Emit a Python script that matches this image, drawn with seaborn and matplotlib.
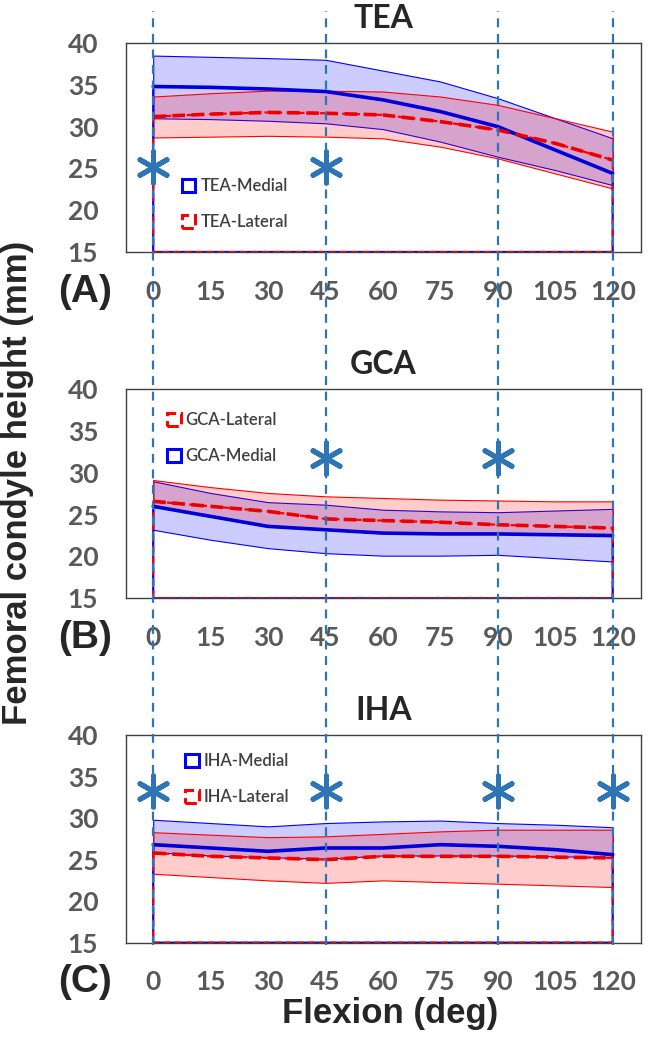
import matplotlib
matplotlib.use('Agg')
import numpy as np
import pandas as pd
import matplotlib.pyplot as plt
import matplotlib.transforms as mtransforms
from matplotlib.lines import Line2D
from matplotlib.patches import Patch
import seaborn as sns

# flexion angles (deg)
flexion = [0, 15, 30, 45, 60, 75, 90, 105, 120]

# TEA: mean and +/- SD bands (mm)
tea_med_hi = [38.5, 38.35, 38.2, 38.0, 36.7, 35.4, 33.4, 31.0, 28.6]
tea_med_mean = [34.8, 34.7, 34.5, 34.2, 33.2, 31.8, 30.0, 27.2, 24.4]
tea_med_lo = [31.0, 30.9, 30.7, 30.4, 29.7, 28.2, 26.4, 24.8, 23.0]
tea_lat_hi = [33.6, 34.0, 34.3, 34.3, 34.2, 33.6, 32.6, 31.0, 29.4]
tea_lat_mean = [31.2, 31.5, 31.7, 31.6, 31.4, 30.6, 29.6, 28.0, 26.0]
tea_lat_lo = [28.7, 28.8, 28.9, 28.8, 28.6, 27.6, 26.2, 24.4, 22.6]

# GCA
gca_med_hi = [29.0, 27.6, 26.5, 26.2, 25.6, 25.4, 25.3, 25.5, 25.7]
gca_med_mean = [26.0, 24.8, 23.6, 23.2, 22.8, 22.7, 22.7, 22.6, 22.5]
gca_med_lo = [23.2, 22.0, 21.0, 20.4, 20.1, 20.1, 20.2, 19.8, 19.4]
gca_lat_hi = [29.15, 28.3, 27.6, 27.2, 27.0, 26.8, 26.7, 26.6, 26.6]
gca_lat_mean = [26.6, 26.0, 25.4, 24.5, 24.3, 24.1, 23.8, 23.6, 23.4]
gca_lat_lo = [26.1, 24.9, 23.7, 23.3, 22.9, 22.8, 22.8, 22.7, 22.7]

# IHA
iha_med_hi = [29.8, 29.4, 29.0, 29.4, 29.6, 29.7, 29.4, 29.2, 28.9]
iha_med_mean = [26.8, 26.4, 26.0, 26.4, 26.4, 26.8, 26.6, 26.2, 25.6]
iha_med_lo = [25.9, 25.5, 25.3, 25.1, 25.5, 25.5, 25.5, 25.4, 25.3]
iha_lat_hi = [28.3, 28.0, 27.7, 27.8, 28.1, 28.4, 28.6, 28.6, 28.6]
iha_lat_mean = [25.8, 25.4, 25.2, 25.0, 25.4, 25.4, 25.4, 25.3, 25.2]
iha_lat_lo = [23.3, 22.9, 22.5, 22.2, 22.5, 22.3, 22.1, 21.9, 21.7]

# significant angles (asterisks) and their height in each panel
tea_star_x = [0, 45]
tea_star_y = [25.2, 25.2]
gca_star_x = [45, 90]
gca_star_y = [31.8, 31.8]
iha_star_x = [0, 45, 90, 120]
iha_star_y = [33.3, 33.3, 33.3, 33.3]

# vertical reference lines through all panels
ref_angles = [0, 45, 90, 120]

xticks = list(range(0, 121, 15))
yticks = list(range(15, 41, 5))

sns.set_theme(style='white')
plt.rcParams['font.family'] = ['Lato', 'DejaVu Sans']
ARIAL = ['Liberation Sans', 'DejaVu Sans']

BLUE = '#0000ff'
RED = '#ff0000'
STAR = '#2e75b6'
GREY = '#595959'

panels = [
    dict(name='TEA', letter='(A)', box=[0.1927, 0.760, 0.7875, 0.199],
         med=(tea_med_lo, tea_med_mean, tea_med_hi), lat=(tea_lat_lo, tea_lat_mean, tea_lat_hi),
         sx=tea_star_x, sy=tea_star_y, med_first=True, leg=(0.109, 0.23)),
    dict(name='GCA', letter='(B)', box=[0.1927, 0.4302, 0.7875, 0.199],
         med=(gca_med_lo, gca_med_mean, gca_med_hi), lat=(gca_lat_lo, gca_lat_mean, gca_lat_hi),
         sx=gca_star_x, sy=gca_star_y, med_first=False, leg=(0.08, 0.767)),
    dict(name='IHA', letter='(C)', box=[0.1927, 0.1022, 0.7875, 0.1978],
         med=(iha_med_lo, iha_med_mean, iha_med_hi), lat=(iha_lat_lo, iha_lat_mean, iha_lat_hi),
         sx=iha_star_x, sy=iha_star_y, med_first=True, leg=(0.115, 0.786)),
]

fig = plt.figure(figsize=(6.54, 10.5), dpi=100)
axes = []
for p in panels:
    ax = fig.add_axes(p['box'])
    axes.append(ax)
    m_lo, m_mean, m_hi = p['med']
    l_lo, l_mean, l_hi = p['lat']

    # SD bands
    ax.fill_between(flexion, m_lo, m_hi, facecolor=(0, 0, 1, 0.2), edgecolor=BLUE, lw=0.8, zorder=1)
    ax.fill_between(flexion, l_lo, l_hi, facecolor=(1, 0, 0, 0.2), edgecolor=RED, lw=0.8, zorder=1)
    # area outlines of the mean series (excel style)
    ax.fill_between(flexion, 15, m_mean, facecolor='none', edgecolor=BLUE, lw=1.6, zorder=2.7)
    ax.fill_between(flexion, 15, l_mean, facecolor='none', edgecolor=RED, lw=1.6,
                    linestyle=(0, (3, 2)), zorder=2.8)
    # mean lines
    sns.lineplot(x=flexion, y=m_mean, color='#0000dd', lw=2.6, ax=ax, zorder=3)
    sns.lineplot(x=flexion, y=l_mean, color='#ee0000', lw=2.6, linestyle=(0, (3.5, 1.8)), ax=ax, zorder=3)

    # asterisks
    sns.scatterplot(x=p['sx'], y=p['sy'], marker=(6, 2, 0), s=500, color=STAR,
                    linewidth=3.6, ax=ax, zorder=5)

    ax.set_xlim(-7.1, 127.4)
    ax.set_ylim(15, 40)
    ax.set_xticks(xticks)
    ax.set_yticks(yticks)
    ax.tick_params(length=0, pad=20, labelsize=19, labelcolor=GREY)
    for lab in ax.get_xticklabels() + ax.get_yticklabels():
        lab.set_fontweight('bold')
    for sp in ax.spines.values():
        sp.set_visible(True)
        sp.set_color('#404040')
        sp.set_linewidth(1)
    ax.set_xlabel('')
    ax.set_ylabel('')
    ax.set_title(p['name'], fontsize=23, fontweight='bold', pad=11)
    ax.text(-0.08, -0.19, p['letter'], transform=ax.transAxes, fontsize=28,
            fontweight='bold', ha='center', va='center', family=ARIAL)

    h_med = Patch(facecolor='none', edgecolor=BLUE, lw=2.2, label=p['name'] + '-Medial')
    h_lat = Patch(facecolor='none', edgecolor=RED, lw=2.2, linestyle='--', label=p['name'] + '-Lateral')
    handles = [h_med, h_lat] if p['med_first'] else [h_lat, h_med]
    leg = ax.legend(handles=handles, loc='center left', bbox_to_anchor=p['leg'], frameon=False,
                    fontsize=12, handlelength=0.8, handleheight=0.8, handletextpad=0.3,
                    labelspacing=1.2, borderpad=0, borderaxespad=0, labelcolor='#404040')
    for t in leg.get_texts():
        t.set_fontweight('semibold')

# dashed reference lines across the whole figure
trans = mtransforms.blended_transform_factory(axes[0].transData, fig.transFigure)
for a in ref_angles:
    fig.add_artist(Line2D([a, a], [0.1, 0.99], transform=trans, color=STAR, lw=1.6,
                          linestyle=(0, (4, 3)), zorder=10))

fig.text(0.027, 0.54, 'Femoral condyle height (mm)', rotation=90, fontsize=25,
         fontweight='bold', ha='center', va='center', family=ARIAL)
fig.text(0.596, 0.035, 'Flexion (deg)', fontsize=25, fontweight='bold', ha='center', va='center',
         family=ARIAL)

fig.savefig('out.png', dpi=100)
